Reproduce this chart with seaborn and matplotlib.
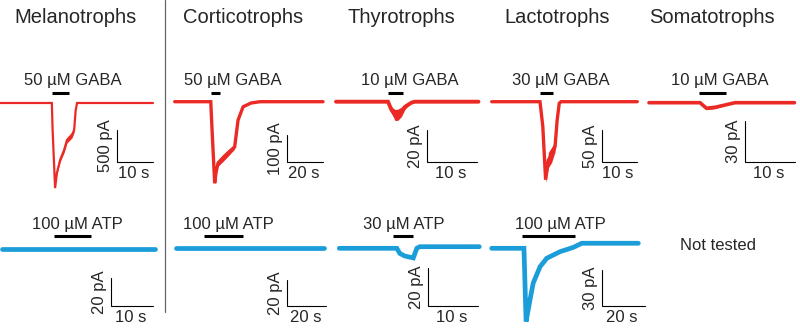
"""GABA and ATP evoked currents in the five pituitary cell types."""

import matplotlib

matplotlib.use("Agg")
import matplotlib.pyplot as plt
import numpy as np
import seaborn as sns

sns.set_theme(style="white")
plt.rcParams["font.family"] = ["Liberation Sans", "DejaVu Sans"]

W, H = 800, 330
RED = "#ec2a25"
BLUE = "#1b9dd9"

cell_types = ["Melanotrophs", "Corticotrophs", "Thyrotrophs", "Lactotrophs", "Somatotrophs"]

# GABA responses (top row): time in s, current in pA, noise half-width in pA
mel_gaba_t = [0, 14.2, 14.4, 14.6, 15.3, 15.8, 16.7, 17.8, 18.6, 20.0, 20.6, 21.0, 21.4, 42.5]
mel_gaba_i = [0, 0, 0, -400, -1330, -1095, -890, -735, -580, -500, -420, -125, 0, 0]
mel_gaba_n = [0, 0, 0, 0, 0, 15, 30, 40, 45, 45, 35, 0, 0, 0]
cor_gaba_t = [0, 20.2, 20.9, 22.4, 23.2, 24.3, 27.1, 29.9, 33.6, 35.5, 38.3, 42.7, 47.8, 83.1]
cor_gaba_i = [0, 0, -100, -302, -260, -227, -208, -190, -167, -68, -19, -5, 0, 0]
cor_gaba_n = [0, 0, 0, 4, 10, 12, 13, 12, 8, 4, 2, 0, 0, 0]
thy_gaba_t = [0, 10.4, 11.1, 11.8, 12.4, 13.1, 13.8, 15.1, 15.8, 28.5]
thy_gaba_i = [0, 0, -5.2, -8.4, -8.2, -6.3, -3.2, -0.6, 0, 0]
thy_gaba_n = [0, 0, 2.0, 3.5, 3.5, 3.0, 1.5, 0, 0, 0]
lac_gaba_t = [0, 13.8, 14.6, 15.4, 16.2, 17.1, 18.1, 18.7, 19.3, 19.8, 41.6]
lac_gaba_i = [0, 0, -39, -123, -92, -84, -71, -29, -2.5, 0, 0]
lac_gaba_n = [0, 0, 0, 4, 12, 12, 8, 3, 0, 0, 0]
som_gaba_t = [0, 10.2, 11.5, 13.2, 15.2, 17.2, 29.1]
som_gaba_i = [0, 0, -4.1, -3.4, -1.7, 0, 0]
som_gaba_n = [0, 0, 1.0, 1.0, 0.5, 0, 0]

# ATP responses (bottom row), somatotrophs not tested
mel_atp_t = [0, 36.5]
mel_atp_i = [0, 0]
cor_atp_t = [0, 76.5]
cor_atp_i = [0, 0]
thy_atp_t = [0, 11.5, 12.1, 13.1, 14.8, 15.5, 16.1, 28.0]
thy_atp_i = [0, 0, -2.7, -4.1, -5.1, 0, 0.85, 0.85]
lac_atp_t = [0, 15.0, 16.0, 17.8, 19.3, 22.5, 25.6, 31.8, 38.0, 41.9, 68.2]
lac_atp_i = [0, 0, -61, -43, -29, -15.3, -8.3, -2.8, 0.8, 4.2, 4.2]

# drug application windows (s) and labels
gaba_on = [(14.4, 19.2), (20.5, 25.2), (10.3, 13.3), (13.8, 17.6), (9.9, 15.3)]
atp_on = [(12.4, 21.3), (14.5, 34.8), (10.8, 14.8), (13.9, 38.7)]
gaba_labels = ["50 µM GABA", "50 µM GABA", "10 µM GABA", "30 µM GABA", "10 µM GABA"]
atp_labels = ["100 µM ATP", "100 µM ATP", "30 µM ATP", "100 µM ATP"]

# scale bars
gaba_scale_pa = [500, 100, 20, 50, 30]
gaba_scale_s = [10, 20, 10, 10, 10]
atp_scale_pa = [20, 20, 20, 30]
atp_scale_s = [10, 20, 10, 20]

gaba_traces = [
    (mel_gaba_t, mel_gaba_i, mel_gaba_n),
    (cor_gaba_t, cor_gaba_i, cor_gaba_n),
    (thy_gaba_t, thy_gaba_i, thy_gaba_n),
    (lac_gaba_t, lac_gaba_i, lac_gaba_n),
    (som_gaba_t, som_gaba_i, som_gaba_n),
]
atp_traces = [
    (mel_atp_t, mel_atp_i, None),
    (cor_atp_t, cor_atp_i, None),
    (thy_atp_t, thy_atp_i, None),
    (lac_atp_t, lac_atp_i, None),
]

# layout in pixels: trace start x, baseline y, px per s, px per pA,
# scale bar corner x, y, label centre x
gaba_layout = [
    (0.0, 103.0, 3.6, 0.064, 117.0, 162.0, 73),
    (174.7, 101.7, 1.785, 0.27, 287.3, 162.0, 233),
    (336.0, 101.7, 5.0, 1.585, 426.7, 161.7, 410),
    (491.7, 101.7, 3.5, 0.634, 601.7, 161.7, 561),
    (649.0, 102.7, 5.0, 1.357, 745.0, 162.0, 720),
]
atp_layout = [
    (1.7, 249.3, 4.2, 1.385, 110.7, 306.0, 77),
    (176.0, 248.3, 1.935, 1.3, 287.3, 306.0, 228),
    (339.3, 248.3, 5.0, 1.885, 428.3, 306.0, 404),
    (491.7, 248.3, 2.15, 1.2, 601.7, 306.0, 560),
]
gaba_lw = [1.6, 2.4, 2.8, 2.4, 2.6]
title_x = [76, 243, 401, 557, 712]


def fx(px):
    return px / W


def fy(py):
    return 1 - py / H


def draw_panel(fig, trace, on, label, scale_pa, scale_s, layout, color, lw,
               bar_py, label_py):
    x0, y0, pps, ppa, sx, sy, lx = layout
    ax = fig.add_axes([0, 0, 1, 1])
    ax.set_xlim(-x0 / pps, (W - x0) / pps)
    ax.set_ylim((y0 - H) / ppa, y0 / ppa)
    ax.set_axis_off()
    ax.patch.set_alpha(0)

    t, i, noise = trace
    if noise is not None:
        i_arr, n_arr = np.array(i), np.array(noise)
        ax.fill_between(t, i_arr - n_arr, i_arr + n_arr, color=color, lw=0)
    sns.lineplot(x=t, y=i, ax=ax, color=color, lw=lw,
                 estimator=None, sort=False, solid_joinstyle="miter")

    bar_y = (y0 - bar_py) / ppa
    ax.plot(on, [bar_y, bar_y], color="black", lw=2.2, solid_capstyle="butt")
    fig.text(fx(lx), fy(label_py), label, ha="center", va="baseline",
             fontsize=12)

    cx = (sx - x0) / pps
    cy = (y0 - sy) / ppa
    ax.plot([cx, cx, cx + scale_s], [cy + scale_pa, cy, cy], color="black",
            lw=0.8, solid_joinstyle="miter")
    ax.annotate(f"{scale_pa} pA", (cx, cy + scale_pa / 2), xytext=(-3, 0),
                textcoords="offset points", rotation=90, ha="right",
                va="center", fontsize=12)
    ax.annotate(f"{scale_s} s", (cx + scale_s / 2, cy), xytext=(-1, -3),
                textcoords="offset points", ha="center", va="top",
                fontsize=12)


fig = plt.figure(figsize=(W / 100, H / 100), dpi=100)

for k in range(5):
    fig.text(fx(title_x[k]), fy(23), cell_types[k], ha="center",
             va="baseline", fontsize=14.5)
    draw_panel(fig, gaba_traces[k], gaba_on[k], gaba_labels[k],
               gaba_scale_pa[k], gaba_scale_s[k], gaba_layout[k], RED,
               gaba_lw[k], 93.0, 85.0)

for k in range(4):
    draw_panel(fig, atp_traces[k], atp_on[k], atp_labels[k],
               atp_scale_pa[k], atp_scale_s[k], atp_layout[k], BLUE,
               3.4, 235.7, 229.0)

fig.text(fx(717.5), fy(245), "Not tested", ha="center", va="center",
         fontsize=12)
fig.add_artist(plt.Line2D([fx(165), fx(165)], [fy(0), fy(312)],
                          color="#666666", lw=0.9))

fig.savefig("out.png", dpi=100)
